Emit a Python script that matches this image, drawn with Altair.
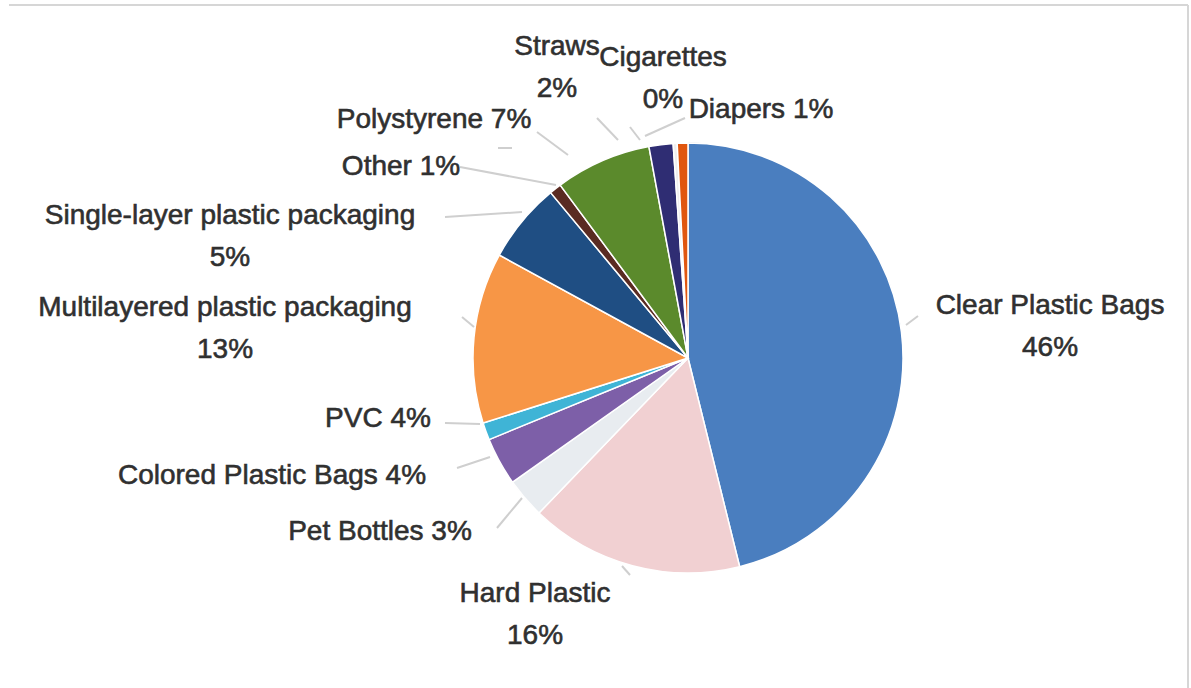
import altair as alt
import pandas as pd

# ---- data ----
categories = ["Clear Plastic Bags", "Hard Plastic", "Pet Bottles", "Colored Plastic Bags",
              "PVC", "Multilayered plastic packaging", "Single-layer plastic packaging",
              "Other", "Polystyrene", "Straws", "Cigarettes", "Diapers"]
slice_values = [46, 16, 3, 3.6, 1.3, 12.8, 6, 0.9, 7.2, 1.8, 0.3, 0.8]
label_pcts = ["46%", "16%", "3%", "4%", "4%", "13%", "5%", "1%", "7%", "2%", "0%", "1%"]

# ---- styling / layout ----
colors = ["#4a7ebf", "#f1d0d2", "#e8ecf0", "#7d5fa8", "#3fb4d6", "#f79646",
          "#1f4e83", "#5a2b22", "#5b8a2c", "#2f2d73", "#eeeeee", "#e0560f"]
two_line = [True, True, False, False, False, True, True, False, False, True, True, False]
label_x = [1050, 535, 380, 272, 378, 225, 230, 401, 434, 557, 663, 761]
label_y = [306, 594, 532, 476, 419, 308, 216, 167, 120, 47, 58, 110]
LINE_H = 42
leaders = [  # x, y, x2, y2
    (906, 325, 918, 316), (622, 566, 630, 575), (497, 528, 522, 498),
    (457, 468, 490, 457), (445, 423, 480, 424), (462, 317, 474, 327),
    (445, 217, 522, 212), (460, 167, 556, 185), (537, 132, 568, 155),
    (498, 148, 512, 148), (597, 118, 618, 140), (630, 127, 640, 140),
    (645, 136, 685, 118),
]
CX, CY, R = 688, 358, 215
W, H = 1191, 688

pie_df = pd.DataFrame({"category": categories, "value": slice_values,
                       "idx": list(range(len(categories)))})

rows = []
for name, pct, tl, x, y in zip(categories, label_pcts, two_line, label_x, label_y):
    if tl:
        rows.append({"text": name, "x": x, "y": y})
        rows.append({"text": pct, "x": x, "y": y + LINE_H})
    else:
        rows.append({"text": f"{name} {pct}", "x": x, "y": y})
text_df = pd.DataFrame(rows)

lead_df = pd.DataFrame(leaders, columns=["x", "y", "x2", "y2"])

pie = alt.Chart(pie_df).mark_arc(outerRadius=R, stroke="white", strokeWidth=1.5).encode(
    theta=alt.Theta("value:Q", stack=True),
    order=alt.Order("idx:Q"),
    color=alt.Color("category:N", scale=alt.Scale(domain=categories, range=colors), legend=None),
    x=alt.value(CX),
    y=alt.value(CY),
)

outline = alt.Chart(pd.DataFrame({"v": [1]})).mark_arc(
    outerRadius=R + 0.5, innerRadius=R - 0.5, color="#c4c4c4"
).encode(theta=alt.Theta("v:Q"), x=alt.value(CX), y=alt.value(CY))

lines = alt.Chart(lead_df).mark_rule(color="#cfcfcf", strokeWidth=2).encode(
    x=alt.X("x:Q", scale=None), y=alt.Y("y:Q", scale=None),
    x2="x2:Q", y2="y2:Q",
)

labels = alt.Chart(text_df).mark_text(
    font="Liberation Sans", fontSize=28, color="#303030", align="center", baseline="middle",
    stroke="#303030", strokeWidth=0.6
).encode(
    x=alt.X("x:Q", scale=None), y=alt.Y("y:Q", scale=None), text="text:N"
)

frame_top = alt.Chart(pd.DataFrame({"v": [1]})).mark_rule(color="#d6d6d6", strokeWidth=2).encode(
    x=alt.value(9), x2=alt.value(1188), y=alt.value(5)
)
frame_right = alt.Chart(pd.DataFrame({"v": [1]})).mark_rule(color="#d6d6d6", strokeWidth=2).encode(
    x=alt.value(1188), y=alt.value(5), y2=alt.value(H)
)

chart = alt.layer(outline, pie, lines, labels, frame_top, frame_right).properties(
    width=W, height=H, padding=0, autosize=alt.AutoSizeParams(type="none"),
    background="white",
).configure_view(stroke=None)

chart.save("out.html", embed_options={"renderer": "svg", "actions": False})
